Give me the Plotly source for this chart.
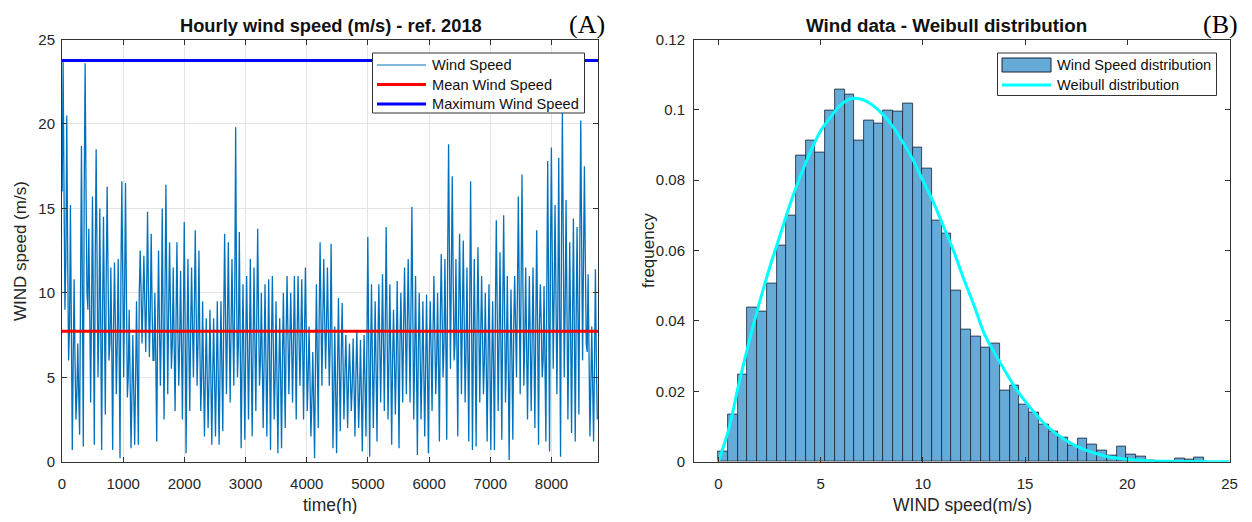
import plotly.graph_objects as go

# ---------------- data ----------------
# Panel A: hourly wind speed, summarised per 60-hour block as
# (high, typical core level, low)
HOURS_PER_BLOCK = 60
YEAR_HOURS = 8760
wind_hi = [
    23.75, 20.5, 15.2, 10.8, 7.0, 18.7, 23.6, 13.8, 15.7, 18.5,
    15.0, 14.5, 16.3, 11.5, 11.8, 12.0, 16.6, 16.5, 9.0, 7.5,
    9.5, 12.5, 12.2, 14.8, 13.5, 10.0, 12.5, 15.0, 16.4, 13.0,
    11.5, 13.0, 11.3, 14.2, 12.0, 11.5,
    13.7, 12.5, 9.5, 8.5, 9.0, 8.5, 9.5, 9.5, 13.5, 13.0,
    12.0, 19.8, 13.6, 10.5, 11.0, 12.0, 11.5, 13.8, 10.0, 10.5,
    10.8, 11.0, 9.5, 8.5, 10.0, 11.0, 10.0, 11.0, 11.0, 10.8,
    11.5, 8.0, 6.5, 10.5, 13.0, 12.0,
    11.5, 12.9, 8.0, 9.7, 9.4, 7.5, 7.0, 7.3, 7.8, 7.2,
    7.5, 13.3, 10.5, 9.5, 10.5, 11.1, 13.9, 10.5, 9.0, 10.7,
    10.0, 11.5, 12.0, 15.1, 11.0, 10.0, 9.5, 9.9, 9.5, 11.0,
    10.0, 12.3, 12.0, 18.8, 16.9, 12.0, 13.5,
    13.1, 11.5, 16.6, 12.0, 12.7, 11.0, 10.0, 10.5, 9.5, 14.3,
    12.4, 14.6, 11.0, 10.2, 11.0, 15.7, 17.0, 11.5, 11.0, 11.5,
    13.7, 10.5, 10.4, 17.8, 18.6, 15.2, 18.0, 20.7, 15.5, 13.0,
    14.4, 13.9, 20.2, 17.5, 11.1, 8.0, 11.4,
]
wind_mid = [
    16, 12, 8, 6, 4, 10, 16, 9, 9, 12,
    8, 9, 11, 7, 8, 7, 11, 10, 5, 4,
    5, 10, 9.5, 10, 9, 6, 8, 8, 10, 9,
    7, 8, 7, 8, 7, 8,
    9, 7, 5, 5, 5, 5, 5, 5.5, 8.5, 8,
    8, 10, 7, 6, 7, 6.5, 7, 8.5, 6, 6,
    6, 7, 5, 5, 6, 7.5, 7, 7, 7.5, 7,
    7.5, 5, 3.5, 6, 8.5, 8.5,
    8, 7, 4, 5.5, 6, 5, 5, 4.5, 5, 4,
    4.5, 7, 6, 5.5, 7, 7, 8, 6, 6, 6,
    7, 8, 8, 9, 6, 6.5, 5.5, 5.5, 6.5, 7.5,
    6, 8.5, 7, 12, 11, 7, 9,
    8.5, 6.5, 9, 7, 8, 7.5, 6, 6, 5.5, 9,
    7, 9, 6, 6, 8, 10, 10.5, 7, 7, 7,
    8, 8, 6, 10, 12, 10, 9, 13, 9, 7.5,
    8, 8.5, 13, 12, 6.5, 4.5, 6,
]
wind_lo = [
    9.0, 6.0, 0.7, 2.5, 1.6, 0.9, 10.0, 3.5, 1.0, 5.0,
    0.7, 2.8, 6.0, 0.7, 4.0, 0.2, 5.0, 3.8, 0.8, 1.0,
    1.0, 7.0, 6.5, 6.2, 6.0, 1.2, 4.5, 2.5, 4.0, 5.5,
    3.0, 4.5, 2.5, 0.5, 3.0, 5.0,
    4.5, 3.0, 1.5, 2.0, 1.0, 1.5, 1.0, 1.8, 4.0, 3.5,
    4.5, 5.0, 0.8, 1.3, 2.5, 1.5, 3.0, 4.5, 2.0, 1.5,
    0.7, 2.5, 0.5, 0.8, 2.0, 4.0, 3.5, 2.5, 4.5, 2.5,
    3.0, 1.5, 0.2, 2.0, 4.5, 5.5,
    4.5, 0.8, 0.5, 1.8, 2.5, 2.0, 3.0, 1.5, 2.0, 0.6,
    1.5, 0.3, 2.0, 1.2, 3.5, 3.0, 2.5, 1.0, 2.8, 0.8,
    3.5, 4.0, 3.5, 2.5, 0.4, 2.5, 1.5, 0.5, 3.0, 4.0,
    1.2, 5.0, 1.3, 5.5, 6.0, 1.5, 4.0,
    3.5, 1.2, 0.7, 0.9, 3.5, 4.0, 1.2, 0.7, 0.7, 3.0,
    1.3, 3.5, 0.1, 1.3, 5.0, 4.0, 4.5, 2.5, 3.0, 2.0,
    1.0, 5.0, 1.2, 0.6, 5.5, 4.0, 0.3, 5.0, 2.5, 1.7,
    1.2, 2.8, 6.0, 7.0, 1.5, 1.2, 2.5,
]
MEAN_SPEED = 7.72
MAX_SPEED = 23.75

# Panel B: histogram of wind speed (50 bins from 0 to max speed)
BIN_WIDTH = 0.475
hist_freq = [
    0.0030, 0.0133, 0.0248, 0.0439, 0.0426, 0.0507, 0.0614, 0.0700, 0.0871, 0.0914,
    0.0879, 0.0998, 0.1057, 0.1045, 0.0914, 0.0971, 0.0961, 0.0998, 0.0996, 0.1019,
    0.0893, 0.0834, 0.0685, 0.0649, 0.0488, 0.0377, 0.0356, 0.0324, 0.0335, 0.0202,
    0.0216, 0.0164, 0.0140, 0.0106, 0.0086, 0.0070, 0.0047, 0.0066, 0.0049, 0.0031,
    0.0019, 0.0043, 0.0020, 0.0015, 0.0004, 0.0002, 0.0002, 0.0008, 0.0005, 0.0012,
]
weibull_x = [0, 0.5, 1, 1.5, 2, 2.5, 3, 3.5, 4, 4.5, 5, 5.5, 6, 6.5, 7, 7.5, 8, 8.5,
             9, 9.5, 10, 10.5, 11, 11.5, 12, 12.5, 13, 13.5, 14, 14.5, 15, 16, 17,
             18, 19, 20, 21, 22, 23, 24, 25]
weibull_y = [0.0, 0.009, 0.022, 0.034, 0.045, 0.055, 0.064, 0.073, 0.081, 0.088,
             0.094, 0.098, 0.1015, 0.1032, 0.1030, 0.1015, 0.0990, 0.0955, 0.0910,
             0.0860, 0.0800, 0.0740, 0.0670, 0.0600, 0.0520, 0.0445, 0.0365, 0.0310,
             0.0260, 0.0212, 0.0172, 0.0105, 0.0060, 0.0032, 0.0015, 0.0007, 0.0003,
             0.0001, 0.00004, 0.00001, 0.0]

# ---------------- build ----------------
hours, speeds = [], []
for i, (hi, mid, lo) in enumerate(zip(wind_hi, wind_mid, wind_lo)):
    t0 = i * HOURS_PER_BLOCK
    hours += [t0 + 3, t0 + 18, t0 + 33, t0 + 48]
    speeds += [mid, hi, mid, lo]
bin_centers = [(i + 0.5) * BIN_WIDTH for i in range(len(hist_freq))]

FONT = "Liberation Sans, Arial, sans-serif"
SERIF = "Liberation Serif, Times New Roman, serif"
AX = "#333333"
BAR_FILL = "rgb(102,170,215)"
BAR_EDGE = "rgb(25,35,50)"
C_WIND, C_MEAN, C_MAX, C_WEIB = "#0072BD", "#FF0000", "#0000FF", "#00FFFF"

# the page body has an 8px margin: figure is placed at (8, 8) in the window
OFF = 8
FW, FH = 1236, 506
def px(x):
    return (x - OFF) / FW
def py(y):
    return 1 - (y - OFF) / FH

fig = go.Figure()
fig.add_trace(go.Scatter(x=hours, y=speeds, mode="lines", name="Wind Speed",
                         line=dict(color=C_WIND, width=1.3), xaxis="x", yaxis="y"))
fig.add_trace(go.Scatter(x=[0, YEAR_HOURS], y=[MEAN_SPEED, MEAN_SPEED], mode="lines",
                         name="Mean Wind Speed", line=dict(color=C_MEAN, width=3),
                         xaxis="x", yaxis="y"))
fig.add_trace(go.Scatter(x=[0, YEAR_HOURS], y=[MAX_SPEED, MAX_SPEED], mode="lines",
                         name="Maximum Wind Speed", line=dict(color=C_MAX, width=3),
                         xaxis="x", yaxis="y"))
fig.add_trace(go.Bar(x=bin_centers, y=hist_freq, width=BIN_WIDTH,
                     name="Wind Speed distribution",
                     marker=dict(color=BAR_FILL, line=dict(color=BAR_EDGE, width=0.8)),
                     xaxis="x2", yaxis="y2"))
fig.add_trace(go.Scatter(x=weibull_x, y=weibull_y, mode="lines",
                         name="Weibull distribution",
                         line=dict(color=C_WEIB, width=3, shape="spline"),
                         xaxis="x2", yaxis="y2"))

ydom = [py(461.7), py(39.5)]
axis_common = dict(showline=True, linecolor=AX, linewidth=1, mirror="ticks",
                   ticks="inside", ticklen=5, tickcolor=AX, zeroline=False,
                   automargin=False,
                   tickfont=dict(family=FONT, size=15, color="#262626"))

fig.update_layout(
    width=FW, height=FH, margin=dict(l=0, r=0, t=0, b=0, pad=0),
    paper_bgcolor="white", plot_bgcolor="white", showlegend=False, bargap=0,
    xaxis=dict(domain=[px(62), px(598)], range=[0, YEAR_HOURS],
               tickvals=[0, 1000, 2000, 3000, 4000, 5000, 6000, 7000, 8000],
               showgrid=True, gridcolor="#e4e4e4", anchor="y",
               ticklabelstandoff=8, **axis_common),
    yaxis=dict(domain=ydom, range=[0, 25], tickvals=[0, 5, 10, 15, 20, 25],
               showgrid=True, gridcolor="#e4e4e4", anchor="x",
               ticklabelstandoff=3, **axis_common),
    xaxis2=dict(domain=[px(694), px(1229.5)], range=[-1.19, 25],
                tickvals=[0, 5, 10, 15, 20, 25], showgrid=False, anchor="y2",
                ticklabelstandoff=8, **axis_common),
    yaxis2=dict(domain=ydom, range=[0, 0.12],
                tickvals=[0, 0.02, 0.04, 0.06, 0.08, 0.1, 0.12],
                ticktext=["0", "0.02", "0.04", "0.06", "0.08", "0.1", "0.12"],
                showgrid=False, anchor="x2", ticklabelstandoff=5, **axis_common),
)

ann, shapes = [], []
def label(text, x, y, size, bold=False, angle=0, family=FONT, color="#111111",
          anchor="center", yanchor="middle"):
    ann.append(dict(text=f"<b>{text}</b>" if bold else text, x=px(x), y=py(y),
                    xref="paper", yref="paper", showarrow=False, textangle=angle,
                    xanchor=anchor, yanchor=yanchor, borderpad=0,
                    font=dict(family=family, size=size, color=color)))

def line(x0, x1, y, color, width):
    shapes.append(dict(type="line", xref="paper", yref="paper", x0=px(x0), x1=px(x1),
                       y0=py(y), y1=py(y), line=dict(color=color, width=width)))

def rect(x0, x1, y0, y1, fill, edge, width=1):
    shapes.append(dict(type="rect", xref="paper", yref="paper", x0=px(x0), x1=px(x1),
                       y0=py(y1), y1=py(y0), fillcolor=fill,
                       line=dict(color=edge, width=width)))

label("Hourly wind speed (m/s) - ref. 2018", 331, 25, 18.3, bold=True)
label("Wind data - Weibull distribution", 946, 25, 18.8, bold=True)
label("time(h)", 330, 505, 17.5, color="#262626")
label("WIND speed(m/s)", 962, 505, 17.5, color="#262626")
label("WIND speed (m/s)", 20, 251, 17, angle=-90, color="#262626")
label("frequency", 648, 251, 17, angle=-90, color="#262626")
label("(A)", 587, 9, 26, family=SERIF, color="#000000", yanchor="top")
label("(B)", 1220, 9, 26, family=SERIF, color="#000000", yanchor="top")

# legend of panel A
rect(372.5, 584.5, 53, 113, "white", AX)
line(377, 426, 65, C_WIND, 1)
line(377, 426, 84.5, C_MEAN, 3)
line(377, 426, 104, C_MAX, 3)
label("Wind Speed", 431, 65, 14.6, anchor="left")
label("Mean Wind Speed", 431, 84.5, 14.6, anchor="left")
label("Maximum Wind Speed", 431, 104, 14.6, anchor="left")

# legend of panel B
rect(997.5, 1216.5, 53, 95.5, "white", AX)
rect(1002, 1051, 58, 72, BAR_FILL, BAR_EDGE)
line(1002, 1051, 85, C_WEIB, 3)
label("Wind Speed distribution", 1056, 65, 14.6, anchor="left")
label("Weibull distribution", 1056, 85, 14.6, anchor="left")

fig.update_layout(annotations=ann, shapes=shapes)

fig.write_html("out.html")
